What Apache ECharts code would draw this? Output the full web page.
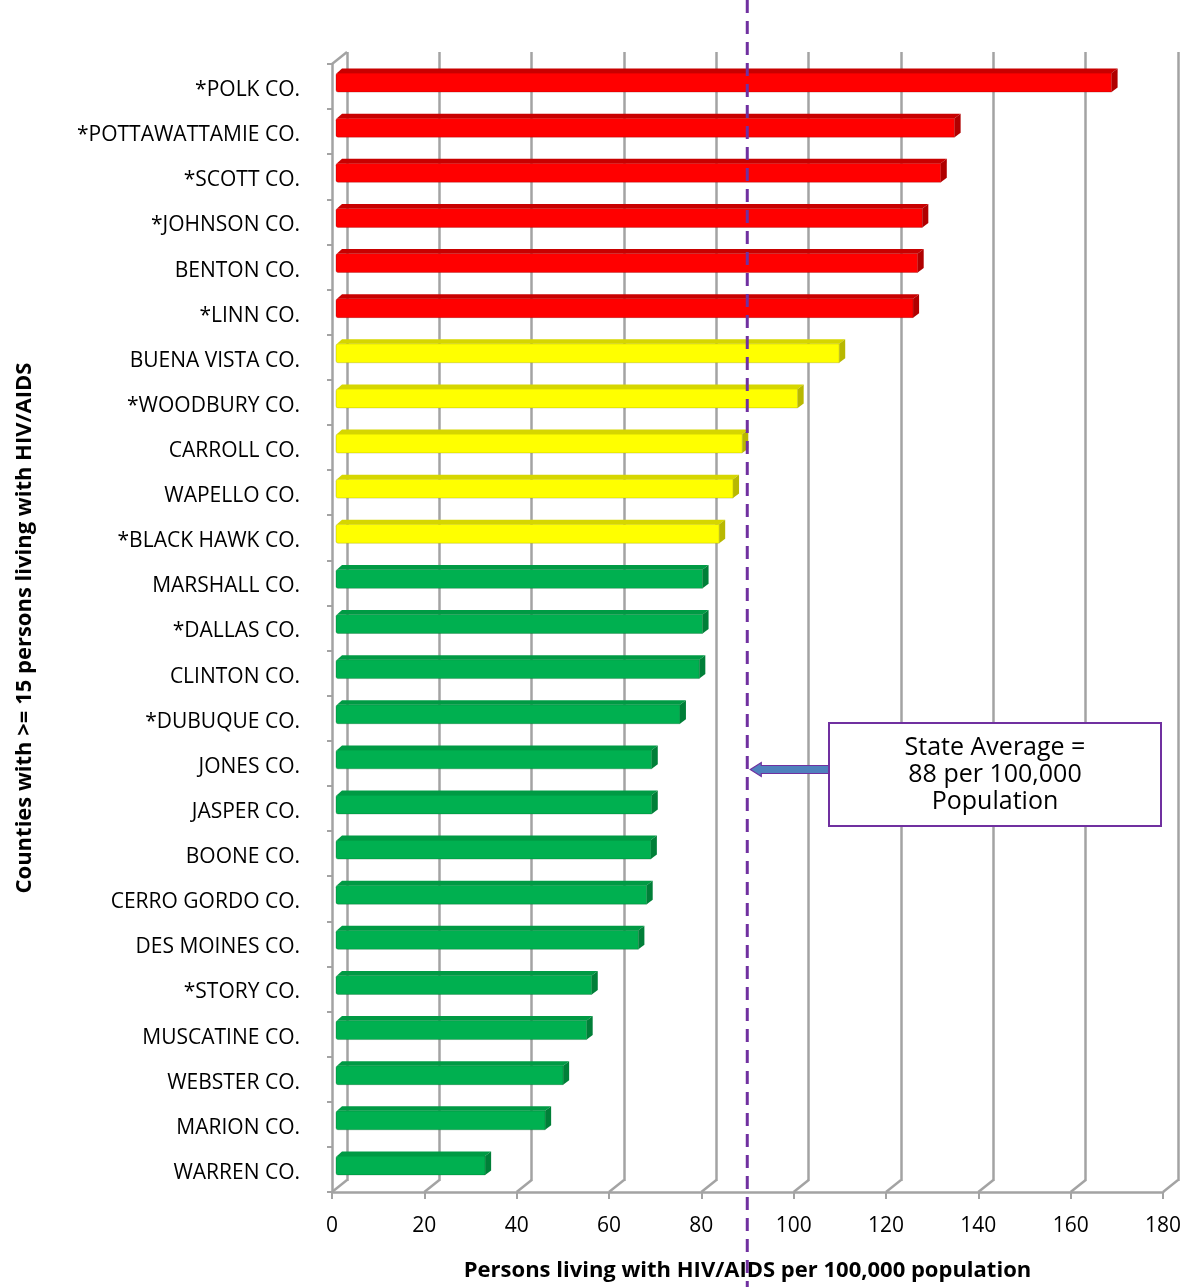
<!DOCTYPE html>
<html>
<head>
<meta charset="utf-8">
<title>Persons living with HIV/AIDS per 100,000 population by county</title>
<script src="https://cdn.jsdelivr.net/npm/echarts@6/dist/echarts.min.js"></script>
<style>
  html, body { margin: 0; padding: 0; background: #ffffff; }
  #chart { width: 1190px; height: 1287px; }
</style>
</head>
<body>
<div id="chart"></div>
<script>
// Counties with >= 15 persons living with HIV/AIDS, highest rate first
const counties = [
  '*POLK CO.', '*POTTAWATTAMIE CO.', '*SCOTT CO.', '*JOHNSON CO.', 'BENTON CO.',
  '*LINN CO.', 'BUENA VISTA CO.', '*WOODBURY CO.', 'CARROLL CO.', 'WAPELLO CO.',
  '*BLACK HAWK CO.', 'MARSHALL CO.', '*DALLAS CO.', 'CLINTON CO.', '*DUBUQUE CO.',
  'JONES CO.', 'JASPER CO.', 'BOONE CO.', 'CERRO GORDO CO.', 'DES MOINES CO.',
  '*STORY CO.', 'MUSCATINE CO.', 'WEBSTER CO.', 'MARION CO.', 'WARREN CO.'
];

// Persons living with HIV/AIDS per 100,000 population
const rates = [
  168, 134, 131, 127, 126,
  125, 109, 100, 88, 86,
  83, 79.4, 79.4, 78.7, 74.5,
  68.4, 68.4, 68.2, 67.3, 65.5,
  55.4, 54.3, 49.2, 45.3, 32.3
];

// Rate tier of each county
const tiers = [
  'high', 'high', 'high', 'high', 'high',
  'high', 'mid', 'mid', 'mid', 'mid',
  'mid', 'low', 'low', 'low', 'low',
  'low', 'low', 'low', 'low', 'low',
  'low', 'low', 'low', 'low', 'low'
];

const xTicks = [0, 20, 40, 60, 80, 100, 120, 140, 160, 180];
const stateAverage = 88;

const xTitle = 'Persons living with HIV/AIDS per 100,000 population';
const yTitle = 'Counties with >= 15 persons living with HIV/AIDS';
const noteLines = ['State Average =', '88 per 100,000', 'Population'];

// Face colours of the 3-D bars by tier
const palette = {
  high: { front: '#ff0000', top: '#c80000', side: '#b00000', edge: 'rgba(120,0,0,0.35)' },
  mid:  { front: '#ffff00', top: '#d6d600', side: '#b8b800', edge: 'rgba(120,120,0,0.35)' },
  low:  { front: '#00b050', top: '#009a44', side: '#007f38', edge: 'rgba(0,80,30,0.35)' }
};

// Depth geometry: back wall offset, bar plane offset, bar thickness
const WALL_DX = 15, WALL_DY = 12;
const BAR_DX = 4, BAR_DY = -4;
const DEPTH_X = 6, DEPTH_Y = 4.5;

const GRID_LEFT = 332, GRID_TOP = 64, GRID_W = 831, GRID_H = 1129;
const FONT = '"Open Sans", "Noto Sans", sans-serif';
const GRAY = '#a3a3a3';

const chart = echarts.init(document.getElementById('chart'), null, { renderer: 'canvas' });

function renderBar(params, api) {
  const v = api.value(0);
  const idx = api.value(1);
  const c = palette[tiers[params.dataIndex]];
  const base = api.coord([0, idx]);
  const end = api.coord([v, idx]);
  const band = api.size([0, 1])[1];
  const h = band * 0.42;
  const x0 = base[0] + BAR_DX, x1 = end[0] + BAR_DX;
  const yT = base[1] + BAR_DY - h / 2, yB = yT + h;
  return {
    type: 'group',
    children: [
      { type: 'rect', shape: { x: x0, y: yT, width: x1 - x0, height: h, r: [2, 0, 0, 2] },
        style: { fill: c.front, stroke: c.edge, lineWidth: 0.8 } },
      { type: 'polygon', shape: { points: [[x0 + 1, yT], [x1, yT], [x1 + DEPTH_X, yT - DEPTH_Y], [x0 + DEPTH_X, yT - DEPTH_Y]] },
        style: { fill: c.top } },
      { type: 'polygon', shape: { points: [[x1, yT], [x1 + DEPTH_X, yT - DEPTH_Y], [x1 + DEPTH_X, yB - DEPTH_Y], [x1, yB]] },
        style: { fill: c.side } }
    ]
  };
}

// Floor edges joining each front tick to its back-wall gridline, plus the left wall's top edge
function renderFloor(params, api) {
  const cs = params.coordSys;
  const x = api.coord([api.value(0), 0])[0];
  const bottom = cs.y + cs.height;
  const children = [
    { type: 'line', shape: { x1: x, y1: bottom, x2: x + WALL_DX, y2: bottom - WALL_DY },
      style: { stroke: GRAY, lineWidth: 2.5 } }
  ];
  if (params.dataIndex === 0) {
    children.push({ type: 'line', shape: { x1: x, y1: cs.y, x2: x + WALL_DX, y2: cs.y - WALL_DY },
      style: { stroke: GRAY, lineWidth: 2.5 } });
  }
  return { type: 'group', children };
}

const option = {
  backgroundColor: '#ffffff',
  animation: false,
  grid: [
    { left: GRID_LEFT, top: GRID_TOP, width: GRID_W, height: GRID_H },
    { left: GRID_LEFT + WALL_DX, top: GRID_TOP - WALL_DY, width: GRID_W, height: GRID_H }
  ],
  xAxis: [
    {
      gridIndex: 0, type: 'value', min: 0, max: 180, interval: 20,
      axisLine: { show: true, lineStyle: { color: GRAY, width: 2.5 } },
      axisTick: { show: true, length: 7, lineStyle: { color: GRAY, width: 2 } },
      axisLabel: { fontSize: 21, color: '#000', fontFamily: FONT, margin: 24 },
      splitLine: { show: false },
      name: xTitle, nameLocation: 'middle', nameGap: 68,
      nameTextStyle: { fontSize: 22, fontWeight: 'bold', color: '#000', fontFamily: FONT }
    },
    {
      gridIndex: 1, type: 'value', min: 0, max: 180, interval: 20,
      axisLine: { show: false }, axisTick: { show: false }, axisLabel: { show: false },
      splitLine: { show: true, lineStyle: { color: GRAY, width: 2.5 } }
    }
  ],
  yAxis: [
    {
      gridIndex: 0, type: 'category', inverse: true, data: counties,
      axisLine: { show: true, lineStyle: { color: GRAY, width: 2.5 } },
      axisTick: { show: true, length: 5, lineStyle: { color: GRAY, width: 2 } },
      axisLabel: {
        margin: 32,
        formatter: v => '{n|' + v + '}',
        rich: { n: { fontSize: 21, color: '#000', fontFamily: FONT, padding: [7, 0, 0, 0] } }
      },
      name: yTitle, nameLocation: 'middle', nameGap: 296, nameRotate: 90,
      nameTextStyle: { fontSize: 22, fontWeight: 'bold', color: '#000', fontFamily: FONT }
    },
    {
      gridIndex: 1, type: 'category', inverse: true, data: counties, show: false
    }
  ],
  series: [
    {
      type: 'custom', name: 'floor', xAxisIndex: 0, yAxisIndex: 0,
      renderItem: renderFloor, data: xTicks.map(v => [v, 0]), silent: true, z: 1
    },
    {
      type: 'custom', name: 'rate', xAxisIndex: 0, yAxisIndex: 0,
      renderItem: renderBar, encode: { x: 0, y: 1 },
      data: rates.map((v, i) => [v, i]), z: 3
    }
  ]
};

chart.setOption(option);

// State average reference line and its callout, placed through the value axis
const avgX = chart.convertToPixel({ xAxisIndex: 0 }, stateAverage) + BAR_DX + DEPTH_X / 2 + 2;
const boxX = 829, boxY = 723, boxW = 332, boxH = 103;
const arrowY = boxY + boxH / 2 - 5;
const tipX = avgX + 3;
const shaft = 4, head = 7, headLen = 11;

chart.setOption({
  graphic: [
    {
      type: 'line', z: 100,
      shape: { x1: avgX, y1: 0, x2: avgX, y2: 1287 },
      style: { stroke: '#7030a0', lineWidth: 3, lineDash: [13, 8] }
    },
    {
      type: 'polygon', z: 101,
      shape: { points: [
        [tipX, arrowY],
        [tipX + headLen, arrowY - head],
        [tipX + headLen, arrowY - shaft],
        [boxX, arrowY - shaft],
        [boxX, arrowY + shaft],
        [tipX + headLen, arrowY + shaft],
        [tipX + headLen, arrowY + head]
      ] },
      style: { fill: '#4f81bd', stroke: '#7030a0', lineWidth: 1.2 }
    },
    {
      type: 'rect', z: 102,
      shape: { x: boxX, y: boxY, width: boxW, height: boxH },
      style: { fill: '#ffffff', stroke: '#7030a0', lineWidth: 2 }
    },
    {
      type: 'text', z: 103,
      x: boxX + boxW / 2, y: boxY + boxH / 2,
      style: {
        text: noteLines.join('\n'), fill: '#000', fontSize: 25, lineHeight: 27,
        fontFamily: FONT, align: 'center', verticalAlign: 'middle'
      }
    }
  ]
});
</script>
</body>
</html>
